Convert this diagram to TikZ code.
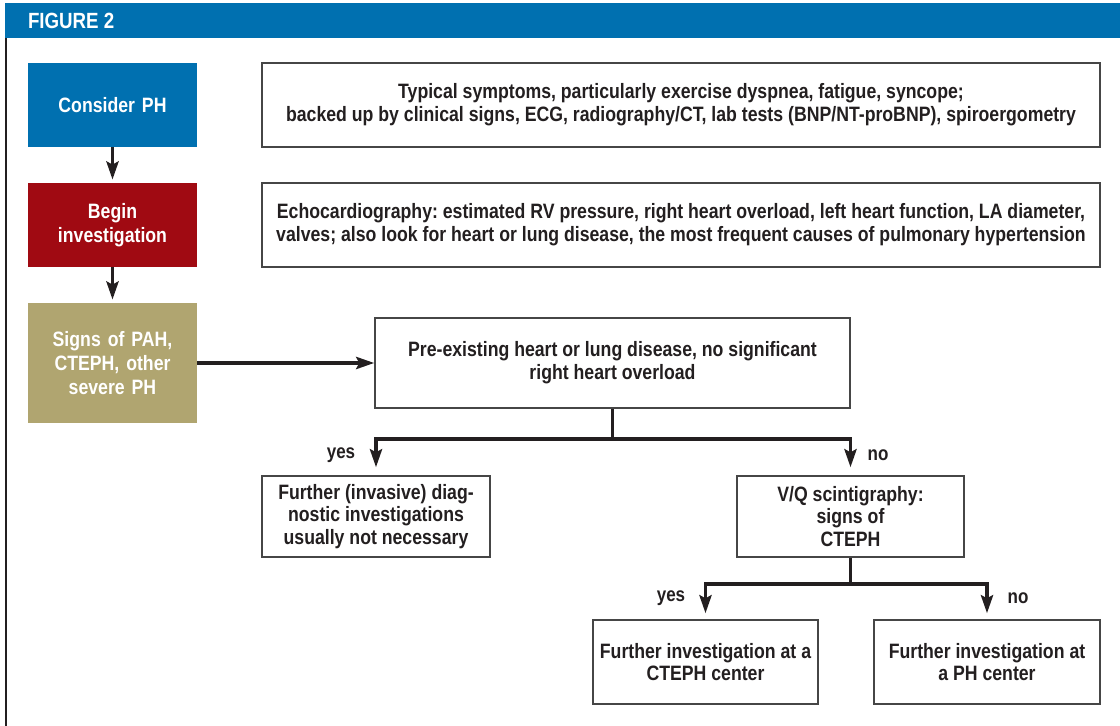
\documentclass[tikz,border=0pt]{standalone}
\usepackage{fontspec}
\setmainfont{Liberation Sans}[FakeStretch=0.85]
\usetikzlibrary{arrows.meta,calc}
\frenchspacing

\definecolor{figblue}{RGB}{0,112,176}
\definecolor{figred}{RGB}{160,10,18}
\definecolor{figkhaki}{RGB}{176,165,112}
\definecolor{figink}{RGB}{35,31,32}
\definecolor{figedge}{RGB}{70,70,70}

\tikzset{
  stagebox/.style={minimum width=84.5pt, text width=80pt, align=center, inner sep=2pt,
    text=white, font=\bfseries\fontsize{10.4}{12.2}\selectfont},
  infobox/.style={draw=figedge, line width=0.7pt, fill=white, align=center, inner sep=2pt,
    text=figink, font=\bfseries\fontsize{10.4}{11.4}\selectfont},
  flow/.style={draw=figink, line width=1.9pt, -{Stealth[length=9pt,width=6pt,inset=1.5pt]}},
  branch/.style={draw=figink, line width=1.9pt},
  answer/.style={text=figink, font=\bfseries\fontsize{10}{12}\selectfont}
}

\begin{document}
\begin{tikzpicture}[x=0.5pt,y=-0.5pt]
\useasboundingbox (0,0) rectangle (1120,726);

% header and frame
\fill[figblue] (5,3) rectangle (1120,38);
\node[anchor=west, text=white, font=\bfseries\fontsize{11}{12}\selectfont] (title) at (21,21) {FIGURE 2};
\draw[figink, line width=1pt] (6,38) -- (6,726);

% left column
\node[stagebox, fill=figblue, minimum height=42pt] (consider) at (112.5,105) {Consider PH};
\node[stagebox, fill=figred, minimum height=42pt] (begin) at (112.5,225) {Begin\\investigation};
\node[stagebox, fill=figkhaki, minimum height=60pt] (signs) at (112.5,363) {Signs of PAH,\\CTEPH, other\\severe PH};

% text boxes
\node[infobox, minimum width=419pt, minimum height=42pt] (symptoms) at (681,105)
  {Typical symptoms, particularly exercise dyspnea, fatigue, syncope;\\
   backed up by clinical signs, ECG, radiography/CT, lab tests (BNP/NT-proBNP), spiroergometry};
\node[infobox, minimum width=419pt, minimum height=42pt] (echo) at (681,225)
  {Echocardiography: estimated RV pressure, right heart overload, left heart function, LA diameter,\\
   valves; also look for heart or lung disease, the most frequent causes of pulmonary hypertension};
\node[infobox, minimum width=237.5pt, minimum height=45pt] (preex) at (612.5,363)
  {Pre-existing heart or lung disease, no significant\\right heart overload};
\node[infobox, minimum width=114pt, minimum height=40.5pt] (invasive) at (376,516.5)
  {Further (invasive) diag-\\nostic investigations\\usually not necessary};
\node[infobox, minimum width=113.5pt, minimum height=40.5pt] (vq) at (850.5,516.5)
  {V/Q scintigraphy:\\signs of\\CTEPH};
\node[infobox, minimum width=112.5pt, minimum height=42pt] (ctephc) at (705.5,662)
  {Further investigation at a\\CTEPH center};
\node[infobox, minimum width=113pt, minimum height=42pt] (phc) at (987,662)
  {Further investigation at\\a PH center};

% answers
\node[answer] (yes1) at (341,455) {yes};
\node[answer] (no1) at (878,455) {no};
\node[answer] (yes2) at (671,598) {yes};
\node[answer] (no2) at (1018,598) {no};

% connectors
\draw[flow, shorten >=1.5pt] (consider) -- (begin);
\draw[flow, shorten >=1.5pt] (begin) -- (signs);
\draw[flow] (signs.east) -- (preex.west);

\coordinate (split1) at ($(preex.south)+(0,30)$);
\draw[branch] (preex.south) -- (split1);
\draw[flow, shorten >=4pt] (split1) -| (invasive.north);
\draw[flow, shorten >=4pt] (split1) -| (vq.north);

\coordinate (split2) at ($(vq.south)+(0,26)$);
\draw[branch] (vq.south) -- (split2);
\draw[flow, shorten >=3pt] (split2) -| (ctephc.north);
\draw[flow, shorten >=3pt] (split2) -| (phc.north);
\end{tikzpicture}
\end{document}
